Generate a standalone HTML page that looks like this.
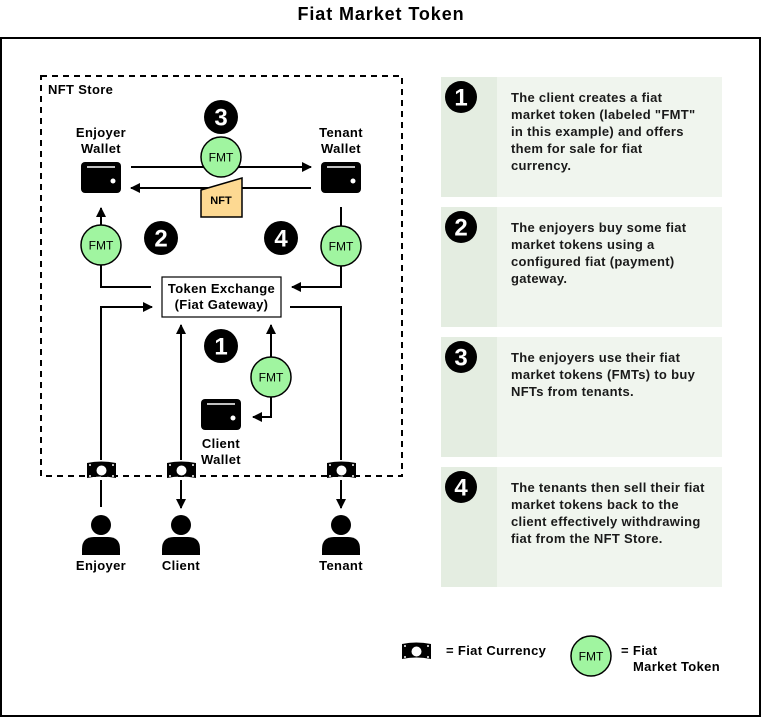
<!DOCTYPE html>
<html><head><meta charset="utf-8"><style>
body{margin:0;background:#fff}
svg{display:block;font-family:"Liberation Sans",Arial,sans-serif}
.t{font-weight:bold;font-size:13px;letter-spacing:0.35px;fill:#000}
.p{font-weight:bold;font-size:13px;letter-spacing:0.3px;fill:#1a1a1a}
</style></head><body>
<svg width="762" height="718" viewBox="0 0 762 718">
<defs>
<marker id="a" markerWidth="10" markerHeight="10" refX="9" refY="5" orient="auto" markerUnits="userSpaceOnUse"><path d="M0,0 L10,5 L0,10 z" fill="#000"/></marker>
<g id="w"><rect x="0" y="0" width="40" height="31" rx="4" fill="#000"/><path d="M6,5 H34" stroke="#fff" stroke-width="1.5"/><circle cx="32" cy="19" r="2.5" fill="#fff"/></g>
<g id="m"><path d="M0,2 Q14,-1 29,2 L29,17 Q14,14 0,17 z" fill="#000"/><ellipse cx="14.5" cy="9.5" rx="5" ry="5" fill="#fff"/><path d="M2,4 h2 M25,4 h2 M2,15 h2 M25,15 h2" stroke="#fff" stroke-width="1.5"/></g>
<g id="u"><circle cx="0" cy="-12" r="10" fill="#000"/><path d="M-19,18 V12 Q-19,0 -7,0 H7 Q19,0 19,12 V18 z" fill="#000"/></g>
<g id="f"><circle r="20" fill="#a0f5a0" stroke="#000" stroke-width="1.5"/><text y="4.5" text-anchor="middle" font-size="12" fill="#000">FMT</text></g>
</defs>
<text x="381" y="20" text-anchor="middle" font-weight="bold" font-size="18" letter-spacing="0.9">Fiat Market Token</text>
<rect x="1" y="38" width="759" height="678" fill="none" stroke="#000" stroke-width="2"/>
<rect x="41" y="76" width="361" height="400" fill="none" stroke="#000" stroke-width="2" stroke-dasharray="6,5"/>
<text x="48" y="94" class="t">NFT Store</text>

<g fill="none" stroke="#000" stroke-width="2">
<path d="M131,167 H311" marker-end="url(#a)"/>
<path d="M311,188 H131" marker-end="url(#a)"/>
<path d="M101,226 V208" marker-end="url(#a)"/>
<path d="M101,265 V287 H151"/>
<path d="M341,207 V226"/>
<path d="M341,266 V287 H292" marker-end="url(#a)"/>
<path d="M101,460 V307 H152" marker-end="url(#a)"/>
<path d="M290,307 H341 V460"/>
<path d="M181,460 V325" marker-end="url(#a)"/>
<path d="M271,357 V325" marker-end="url(#a)"/>
<path d="M271,397 V417 H253" marker-end="url(#a)"/>
<path d="M101,480 V507"/>
<path d="M181,480 V508" marker-end="url(#a)"/>
<path d="M341,480 V508" marker-end="url(#a)"/>
</g>

<text x="101" y="137" text-anchor="middle" class="t">Enjoyer</text>
<text x="101" y="153" text-anchor="middle" class="t">Wallet</text>
<text x="341" y="137" text-anchor="middle" class="t">Tenant</text>
<text x="341" y="153" text-anchor="middle" class="t">Wallet</text>
<use href="#w" x="81" y="162"/>
<use href="#w" x="321" y="162"/>
<use href="#w" x="201" y="399"/>
<text x="221" y="448" text-anchor="middle" class="t">Client</text>
<text x="221" y="464" text-anchor="middle" class="t">Wallet</text>

<use href="#f" x="221" y="157"/>
<use href="#f" x="101" y="245"/>
<use href="#f" x="341" y="246"/>
<use href="#f" x="271" y="377"/>
<polygon points="201,190 242,178 242,217 201,217" fill="#fdd992" stroke="#000" stroke-width="1.5"/>
<text x="221" y="204" text-anchor="middle" font-size="11" font-weight="bold">NFT</text>

<rect x="162" y="277" width="119" height="40" fill="#fff" stroke="#000" stroke-width="1.2"/>
<text x="221.5" y="293" text-anchor="middle" class="t">Token Exchange</text>
<text x="221.5" y="309" text-anchor="middle" class="t">(Fiat Gateway)</text>

<g font-weight="bold" font-size="24" text-anchor="middle" fill="#fff">
<circle cx="221" cy="117" r="17" fill="#000"/><text x="221" y="125.5">3</text>
<circle cx="161" cy="238" r="17" fill="#000"/><text x="161" y="246.5">2</text>
<circle cx="281" cy="238" r="17" fill="#000"/><text x="281" y="246.5">4</text>
<circle cx="221" cy="346" r="17" fill="#000"/><text x="221" y="354.5">1</text>
</g>

<use href="#m" x="87" y="461"/>
<use href="#m" x="167" y="461"/>
<use href="#m" x="327" y="461"/>
<use href="#u" x="101" y="537"/>
<use href="#u" x="181" y="537"/>
<use href="#u" x="341" y="537"/>
<text x="101" y="570" text-anchor="middle" class="t">Enjoyer</text>
<text x="181" y="570" text-anchor="middle" class="t">Client</text>
<text x="341" y="570" text-anchor="middle" class="t">Tenant</text>

<g>
<rect x="441" y="77" width="281" height="120" fill="#f0f5ee"/><rect x="441" y="77" width="56" height="120" fill="#e4ede1"/>
<rect x="441" y="207" width="281" height="120" fill="#f0f5ee"/><rect x="441" y="207" width="56" height="120" fill="#e4ede1"/>
<rect x="441" y="337" width="281" height="120" fill="#f0f5ee"/><rect x="441" y="337" width="56" height="120" fill="#e4ede1"/>
<rect x="441" y="467" width="281" height="120" fill="#f0f5ee"/><rect x="441" y="467" width="56" height="120" fill="#e4ede1"/>
</g>
<g font-weight="bold" font-size="24" text-anchor="middle" fill="#fff">
<circle cx="461" cy="97" r="16" fill="#000"/><text x="461" y="105.5">1</text>
<circle cx="461" cy="227" r="16" fill="#000"/><text x="461" y="235.5">2</text>
<circle cx="461" cy="357" r="16" fill="#000"/><text x="461" y="365.5">3</text>
<circle cx="461" cy="487" r="16" fill="#000"/><text x="461" y="495.5">4</text>
</g>
<g>
<text x="511" y="102" class="p">The client creates a fiat</text>
<text x="511" y="119" class="p">market token (labeled "FMT"</text>
<text x="511" y="136" class="p">in this example) and offers</text>
<text x="511" y="153" class="p">them for sale for fiat</text>
<text x="511" y="170" class="p">currency.</text>
<text x="511" y="232" class="p">The enjoyers buy some fiat</text>
<text x="511" y="249" class="p">market tokens using a</text>
<text x="511" y="266" class="p">configured fiat (payment)</text>
<text x="511" y="283" class="p">gateway.</text>
<text x="511" y="362" class="p">The enjoyers use their fiat</text>
<text x="511" y="379" class="p">market tokens (FMTs) to buy</text>
<text x="511" y="396" class="p">NFTs from tenants.</text>
<text x="511" y="492" class="p">The tenants then sell their fiat</text>
<text x="511" y="509" class="p">market tokens back to the</text>
<text x="511" y="526" class="p">client effectively withdrawing</text>
<text x="511" y="543" class="p">fiat from the NFT Store.</text>
</g>

<use href="#m" x="402" y="642"/>
<text x="446" y="655" class="t">= Fiat Currency</text>
<use href="#f" x="591" y="656"/>
<text x="621" y="655" class="t">= Fiat</text>
<text x="633" y="671" class="t">Market Token</text>
</svg>
</body></html>
